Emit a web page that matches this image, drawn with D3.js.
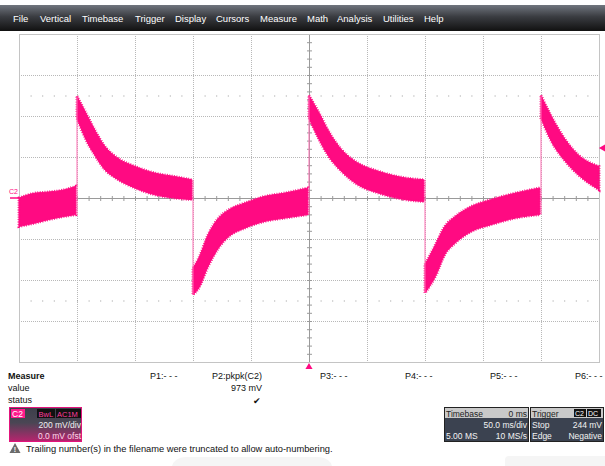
<!DOCTYPE html>
<meta charset="utf-8">
<head>
<style>
  body { margin: 0; background: #fff; font-family: 'Liberation Sans', Arial, sans-serif; }
  svg { display: block; font-family: 'Liberation Sans', Arial, sans-serif; }
  .menu text { fill: #fff; font-size: 9.5px; }
  .grid line { stroke: #b8b8b8; stroke-dasharray: 1,1; }
  .axis0 line { stroke: #9a9a9a; }
  .meas text { font-size: 9px; fill: #111; }
</style>
</head>
<body>
<svg width="605" height="466"></svg>
<script src="https://d3js.org/d3.v7.min.js"></script>
<script>
// time in ms, upper / lower edge of the noisy trace in mV
var segA = [[-250,0,-139],[-236,24,-122],[-225,29,-106],[-211,40,-90],[-201,57,-81]];
var segB = [[-200,496,390],[-193,422,293],[-184,325,203],[-176,252,138],[-167,203,98],[-150,154,49],[-133,122,16],[-116,105,0],[-101,89,-8]];
var segC = [[-100,-341,-472],[-95,-293,-439],[-87,-179,-334],[-78,-98,-244],[-69,-57,-187],[-55,-24,-146],[-38,8,-114],[-21,24,-98],[-1,49,-81]];
var segD = [[0,500,390],[8,422,293],[17,325,203],[28,236,130],[42,171,65],[60,130,24],[83,98,-8],[99,89,-17]];
var segE = [[100,-325,-463],[109,-228,-382],[117,-139,-277],[126,-90,-220],[140,-41,-163],[157,-8,-130],[178,24,-98],[199,49,-81]];
var segF = [[200,500,390],[209,398,276],[221,284,179],[232,211,114],[250,154,40]];
var segments = [segA, segB, segC, segD, segE, segF];

var menuItems = ["File","Vertical","Timebase","Trigger","Display","Cursors","Measure","Math","Analysis","Utilities","Help"];
var menuX = [13,40,82,135,175,216,260,307,337,383,424];
var paramLabels = ["P1:- - -","P2:pkpk(C2)","P3:- - -","P4:- - -","P5:- - -","P6:- - -"];
var paramX = [150,212,320,405,490,575];
var triggerLevel = 244; // mV

const svg = d3.select('svg');
const defs = svg.append('defs');

// faint shapes along the bottom edge
svg.append('rect').attr('x',172).attr('y',457).attr('width',160).attr('height',20).attr('rx',14).attr('fill','#f5f5f5');
svg.append('rect').attr('x',505).attr('y',456).attr('width',110).attr('height',20).attr('rx',4).attr('fill','#f5f5f5');

// menu bar
var mg = defs.append('linearGradient').attr('id','menuGrad').attr('x1',0).attr('y1',0).attr('x2',0).attr('y2',1);
mg.append('stop').attr('offset','0%').attr('stop-color','#70757e');
mg.append('stop').attr('offset','45%').attr('stop-color','#3a3c41');
mg.append('stop').attr('offset','100%').attr('stop-color','#111');
svg.append('rect').attr('x',0).attr('y',5).attr('width',605).attr('height',26).attr('fill','url(#menuGrad)');
svg.append('g').attr('class','menu').selectAll('text')
  .data(menuItems).enter().append('text')
  .attr('x', (d,i) => menuX[i]).attr('y', 21.5).text(d => d);

// scales
const x = d3.scaleLinear().domain([-250, 250]).range([19, 599]);
const y = d3.scaleLinear().domain([-800, 800]).range([362, 34]);

const plot = svg.append('g');
plot.append('rect').attr('x',x(-250)).attr('y',y(800)).attr('width',x(250)-x(-250)).attr('height',y(-800)-y(800))
  .attr('fill','#fff');

// grid
const grid = plot.append('g').attr('class','grid');
grid.selectAll('.vx').data(d3.range(-200, 250, 50).filter(d => d !== 0)).enter().append('line')
  .attr('x1', d => x(d)+0.5).attr('x2', d => x(d)+0.5).attr('y1', y(800)).attr('y2', y(-800));
grid.selectAll('.hy').data(d3.range(-600, 800, 200).filter(d => d !== 0)).enter().append('line')
  .attr('y1', d => y(d)+0.5).attr('y2', d => y(d)+0.5).attr('x1', x(-250)).attr('x2', x(250));

// dotted marker rows at +-2.5 div
var subT = d3.range(-250, 251, 10);
[500, -500].forEach(function(v) {
  plot.append('g').selectAll('rect').data(subT).enter().append('rect')
    .attr('x', d => x(d)).attr('y', y(v)).attr('width',1).attr('height',1).attr('fill','#9a9a9a');
});

// centre axes with minor ticks
const ax = plot.append('g').attr('class','axis0');
ax.append('line').attr('x1',x(-250)).attr('x2',x(250)).attr('y1',y(0)+0.5).attr('y2',y(0)+0.5);
ax.append('line').attr('y1',y(800)).attr('y2',y(-800)).attr('x1',x(0)+0.5).attr('x2',x(0)+0.5);
ax.selectAll('.tx').data(subT).enter().append('line')
  .attr('x1', d => x(d)+0.5).attr('x2', d => x(d)+0.5).attr('y1', y(0)-2).attr('y2', y(0)+3);
ax.selectAll('.ty').data(d3.range(-800, 801, 40)).enter().append('line')
  .attr('y1', d => y(d)+0.5).attr('y2', d => y(d)+0.5).attr('x1', x(0)-2).attr('x2', x(0)+3);

// frame
plot.append('rect').attr('x',x(-250)+0.5).attr('y',y(800)+0.5).attr('width',x(250)-x(-250)).attr('height',y(-800)-y(800))
  .attr('fill','none').attr('stroke','#c4c4c4');

// trace: filled envelope plus a broken outline so the edges look noisy
const pink = '#ff0a82';
const area = d3.area().x(d => x(d[0])).y0(d => y(d[2])).y1(d => y(d[1])).curve(d3.curveMonotoneX);
const trace = plot.append('g');
trace.selectAll('.fill').data(segments).enter().append('path')
  .attr('d', area).attr('fill', pink).attr('stroke', pink).attr('stroke-width', 1);
trace.selectAll('.fuzz').data(segments).enter().append('path')
  .attr('d', area).attr('fill', 'none').attr('stroke', pink).attr('stroke-width', 3)
  .attr('stroke-dasharray', '0.8,1.6');

// edges between segments
var edges = [];
for (var i = 1; i < segments.length; i++) {
  var prev = segments[i-1][segments[i-1].length-1], next = segments[i][0];
  var rising = next[1] > prev[1];
  edges.push({t: next[0], from: rising ? prev[2] : prev[1], to: rising ? next[1] : next[2]});
}
plot.append('g').selectAll('line').data(edges).enter().append('line')
  .attr('x1', d => x(d.t)).attr('x2', d => x(d.t)).attr('y1', d => y(d.from)).attr('y2', d => y(d.to))
  .attr('stroke', '#ff6fb4').attr('stroke-width', 1);

// channel marker
svg.append('text').attr('x',9).attr('y',194).attr('font-size',7).attr('fill',pink).text('C2');
svg.append('line').attr('x1',10).attr('x2',19).attr('y1',y(0)).attr('y2',y(0)).attr('stroke',pink).attr('stroke-width',1.5);
// trigger markers
svg.append('path').attr('d', d3.symbol().type(d3.symbolTriangle).size(22)())
  .attr('transform', 'translate(' + x(0) + ',' + (y(-800)+5) + ')').attr('fill', pink);
svg.append('path').attr('d', d3.symbol().type(d3.symbolTriangle).size(22)())
  .attr('transform', 'translate(603,' + y(triggerLevel) + ') rotate(-90)').attr('fill', pink);

// measure table
const meas = svg.append('g').attr('class','meas');
meas.append('text').attr('x',8).attr('y',379).attr('font-weight','bold').text('Measure');
meas.append('text').attr('x',8).attr('y',391).text('value');
meas.append('text').attr('x',8).attr('y',403).text('status');
meas.selectAll('.p').data(paramLabels).enter().append('text')
  .attr('x', (d,i) => paramX[i]).attr('y',379).text(d => d);
meas.append('text').attr('x',262).attr('y',391).attr('text-anchor','end').text('973 mV');
meas.append('text').attr('x',261).attr('y',404).attr('text-anchor','end').attr('font-size',10).text('\u2714');

// C2 descriptor box
var cg = defs.append('linearGradient').attr('id','chGrad').attr('x1',0).attr('y1',0).attr('x2',0).attr('y2',1);
cg.append('stop').attr('offset','0%').attr('stop-color','#3c3f4a');
cg.append('stop').attr('offset','45%').attr('stop-color','#4a4654');
cg.append('stop').attr('offset','100%').attr('stop-color','#b8246f');
svg.append('rect').attr('x',9.5).attr('y',407.5).attr('width',72).attr('height',34)
  .attr('fill','url(#chGrad)').attr('stroke','#e2147c');
svg.append('rect').attr('x',11).attr('y',409).attr('width',14).attr('height',9).attr('fill','#ff1a8c');
svg.append('text').attr('x',12).attr('y',417).attr('font-size',8.5).attr('fill','#fff').text('C2');
svg.append('rect').attr('x',37).attr('y',409).attr('width',18).attr('height',9).attr('fill','#111');
svg.append('text').attr('x',38.5).attr('y',417).attr('font-size',7.5).attr('fill','#ff3d9e').text('BwL');
svg.append('rect').attr('x',56).attr('y',409).attr('width',25).attr('height',9).attr('fill','#111');
svg.append('text').attr('x',57).attr('y',417).attr('font-size',7.5).attr('fill','#ff3d9e').text('AC1M');
svg.append('text').attr('x',81).attr('y',428).attr('text-anchor','end').attr('font-size',8.5).attr('fill','#f0f0f0').text('200 mV/div');
svg.append('text').attr('x',81).attr('y',439).attr('text-anchor','end').attr('font-size',8.5).attr('fill','#ffd9ea').text('0.0 mV ofst');

// timebase and trigger boxes
function infoBox(x0, w, head, headRight, rows) {
  const g = svg.append('g');
  g.append('rect').attr('x',x0+0.5).attr('y',407.5).attr('width',w).attr('height',34).attr('fill','#3b4250').attr('stroke','#222');
  g.append('rect').attr('x',x0+1).attr('y',408).attr('width',w-1).attr('height',10).attr('fill','#c9c9c9');
  g.append('text').attr('x',x0+2).attr('y',416.5).attr('font-size',8.5).attr('fill','#222').text(head);
  if (headRight) g.append('text').attr('x',x0+w-1).attr('y',416.5).attr('text-anchor','end').attr('font-size',8.5).attr('fill','#222').text(headRight);
  rows.forEach(function(r, i) {
    if (r[0]) g.append('text').attr('x',x0+2).attr('y',428+i*11).attr('font-size',8.5).attr('fill','#f2f2f2').text(r[0]);
    g.append('text').attr('x',x0+w-1).attr('y',428+i*11).attr('text-anchor','end').attr('font-size',8.5).attr('fill','#f2f2f2').text(r[1]);
  });
  return g;
}
infoBox(444, 84, 'Timebase', '0 ms', [['', '50.0 ms/div'], ['5.00 MS', '10 MS/s']]);
var tg = infoBox(530, 73, 'Trigger', null, [['Stop', triggerLevel + ' mV'], ['Edge', 'Negative']]);
tg.append('rect').attr('x',574).attr('y',409).attr('width',12).attr('height',8).attr('fill','#111');
tg.append('text').attr('x',575).attr('y',416).attr('font-size',7).attr('fill','#fff').text('C2');
tg.append('rect').attr('x',587).attr('y',409).attr('width',14).attr('height',8).attr('fill','#111');
tg.append('text').attr('x',588).attr('y',416).attr('font-size',7).attr('fill','#fff').text('DC');

// warning line
svg.append('path').attr('d','M15,443 L20.5,453 L9.5,453 Z').attr('fill','#6b6b6b');
svg.append('text').attr('x',15).attr('y',452).attr('text-anchor','middle').attr('font-size',7).attr('font-weight','bold').attr('fill','#fff').text('!');
svg.append('text').attr('x',26).attr('y',452).attr('font-size',9.3).attr('fill','#111')
  .text('Trailing number(s) in the filename were truncated to allow auto-numbering.');
</script>
</body>
